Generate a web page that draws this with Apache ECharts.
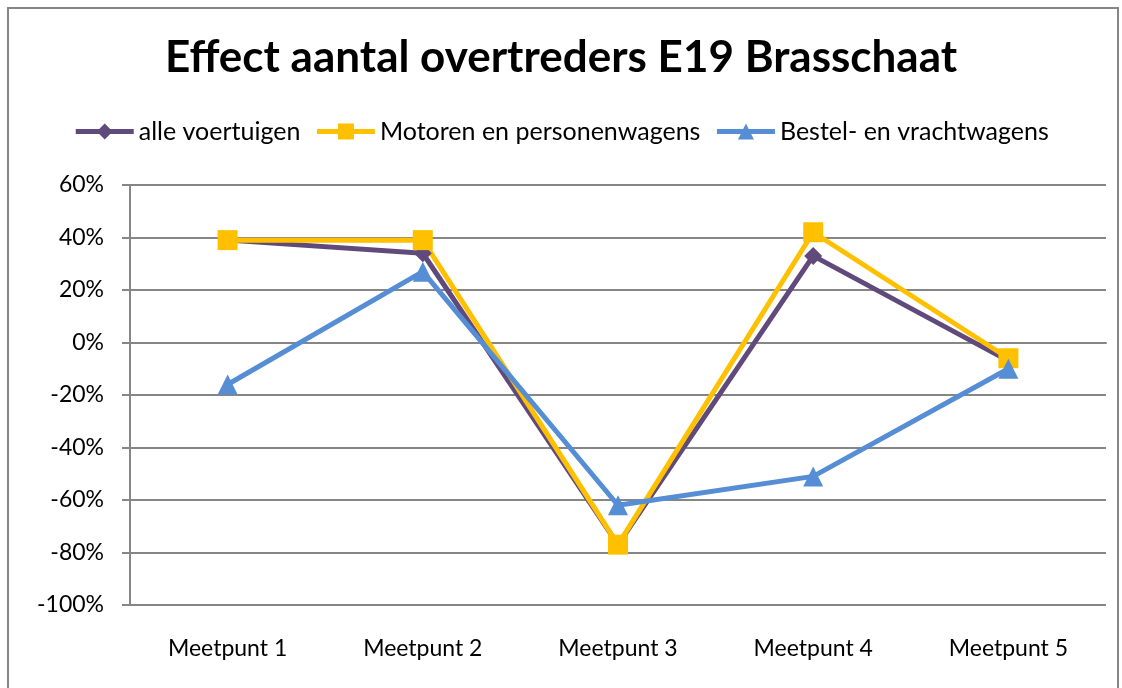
<!DOCTYPE html>
<html>
<head>
<meta charset="UTF-8">
<title>Effect aantal overtreders E19 Brasschaat</title>
<script src="https://cdn.jsdelivr.net/npm/echarts@6/dist/echarts.min.js"></script>
<style>
  html, body { margin: 0; padding: 0; background: #fff; }
  #chart { width: 1122px; height: 688px; }
</style>
</head>
<body>
<div id="chart"></div>
<script type="text/javascript">
  // data (percent)
  var categories = ['Meetpunt 1', 'Meetpunt 2', 'Meetpunt 3', 'Meetpunt 4', 'Meetpunt 5'];
  var alleVoertuigen = [39, 34, -77, 33, -7];
  var motorenPersonenwagens = [39, 39, -77, 42, -6];
  var bestelVrachtwagens = [-16, 27, -62, -51, -10];
  var yTicks = { min: -100, max: 60, step: 20 };

  var grey = '#868686';
  var font = 'Lato, "Open Sans", sans-serif';

  var myChart = echarts.init(document.getElementById('chart'));

  var option = {
      animation: false,
      title: {
          text: 'Effect aantal overtreders E19 Brasschaat',
          left: 'center',
          top: 31,
          textStyle: { fontFamily: font, fontWeight: 'bold', fontSize: 44, color: '#000' }
      },
      legend: {
          top: 114,
          left: 'center',
          itemWidth: 58,
          itemHeight: 20,
          itemGap: 14,
          lineStyle: { width: 5 },
          textStyle: { fontFamily: font, fontSize: 25, color: '#000' },
          data: ['alle voertuigen', 'Motoren en personenwagens', 'Bestel- en vrachtwagens']
      },
      graphic: [{
          type: 'polyline',
          shape: { points: [[8, 700], [8, 8], [1118, 8], [1118, 700]] },
          style: { stroke: grey, lineWidth: 2, fill: null }
      }],
      grid: { left: 130, right: 16, top: 185, bottom: 83 },
      xAxis: [{
          type: 'category',
          data: categories,
          position: 'bottom',
          axisLine: { show: false, onZero: false },
          axisTick: { show: false },
          axisLabel: { fontFamily: font, fontSize: 23, color: '#000', margin: 32 }
      }, {
          type: 'category',
          data: categories,
          position: 'top',
          axisLine: { onZero: true, lineStyle: { color: grey, width: 2 } },
          axisTick: { inside: true, length: 7, lineStyle: { color: grey, width: 2 } },
          axisLabel: { show: false }
      }],
      yAxis: {
          type: 'value',
          min: yTicks.min,
          max: yTicks.max,
          interval: yTicks.step,
          axisLine: { show: true, lineStyle: { color: grey, width: 2 } },
          axisTick: { show: true, length: 8, lineStyle: { color: grey, width: 2 } },
          axisLabel: {
              fontFamily: font, fontSize: 23, color: '#000', margin: 26,
              formatter: function (v) { return v + '%'; }
          },
          splitLine: { lineStyle: { color: grey, width: 2 } }
      },
      series: [{
          name: 'alle voertuigen',
          type: 'line',
          data: alleVoertuigen,
          symbol: 'diamond',
          symbolSize: 18,
          color: '#604A7B',
          lineStyle: { width: 5 }
      }, {
          name: 'Motoren en personenwagens',
          type: 'line',
          data: motorenPersonenwagens,
          symbol: 'rect',
          symbolSize: 20,
          color: '#FFC000',
          lineStyle: { width: 5 }
      }, {
          name: 'Bestel- en vrachtwagens',
          type: 'line',
          data: bestelVrachtwagens,
          symbol: 'triangle',
          symbolSize: 20,
          color: '#558ED5',
          lineStyle: { width: 5 }
      }]
  };

  myChart.setOption(option);
</script>
</body>
</html>
